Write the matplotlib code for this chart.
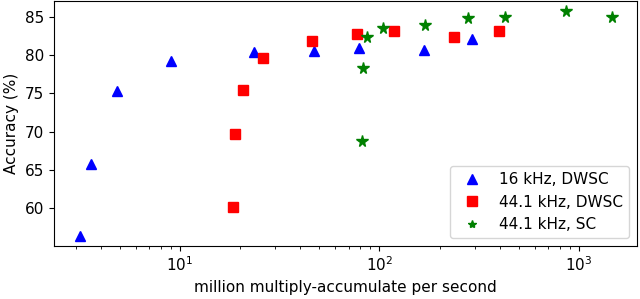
import matplotlib
matplotlib.use("Agg")
import matplotlib.pyplot as plt
from matplotlib.lines import Line2D

# 16 kHz, DWSC
dw16_mac = [3.16, 3.57, 4.82, 8.98, 23.5, 47, 78.9, 168, 292]
dw16_acc = [56.4, 65.8, 75.3, 79.3, 80.4, 80.6, 80.9, 80.7, 82.1]

# 44.1 kHz, DWSC
dw44_mac = [18.5, 18.9, 20.8, 26.1, 45.7, 76.9, 118, 236, 398]
dw44_acc = [60.1, 69.7, 75.5, 79.6, 81.8, 82.8, 83.2, 82.4, 83.2]

# 44.1 kHz, SC
sc44_mac = [81.5, 83, 86.3, 104, 170, 277, 427, 857, 1460]
sc44_acc = [68.8, 78.3, 82.4, 83.6, 84.0, 84.8, 85.0, 85.8, 85.0]

labels = ["16 kHz, DWSC", "44.1 kHz, DWSC", "44.1 kHz, SC"]

plt.rcParams["font.size"] = 11

fig = plt.figure(figsize=(6.4, 2.99), dpi=100)
ax = fig.add_axes([0.084, 0.177, 0.911, 0.82])

ax.plot(dw16_mac, dw16_acc, "^", color="blue", markersize=7)
ax.plot(dw44_mac, dw44_acc, "s", color="red", markersize=7)
ax.plot(sc44_mac, sc44_acc, "*", color="green", markersize=8.5)

ax.set_xscale("log")
ax.set_xlim(2.33, 1950)
ax.set_ylim(55.05, 87.1)
ax.set_yticks([60, 65, 70, 75, 80, 85])
ax.set_xlabel("million multiply-accumulate per second")
ax.set_ylabel("Accuracy (%)")

handles = [
    Line2D([], [], ls="", marker="^", color="blue", markersize=7),
    Line2D([], [], ls="", marker="s", color="red", markersize=7),
    Line2D([], [], ls="", marker="*", color="green", markersize=6),
]
ax.legend(handles, labels, loc="lower right")

fig.savefig("out.png", dpi=100)
